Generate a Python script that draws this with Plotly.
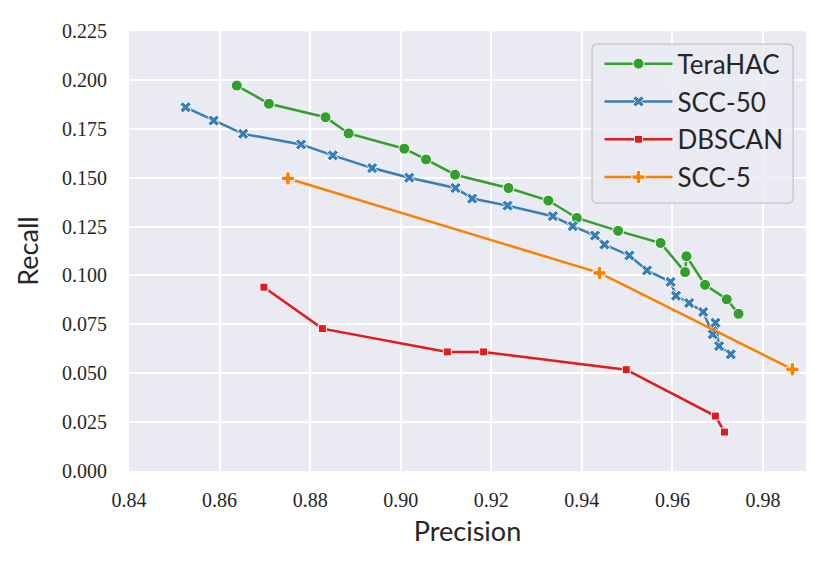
import plotly.graph_objects as go

# Precision / recall points
terahac_p = [0.8638, 0.8709, 0.8834, 0.8885, 0.9008, 0.9056, 0.9120, 0.9238, 0.9326,
             0.9389, 0.9480, 0.9574, 0.9628, 0.9631, 0.9672, 0.9720, 0.9746]
terahac_r = [0.1971, 0.1878, 0.1809, 0.1726, 0.1648, 0.1593, 0.1515, 0.1447, 0.1383,
             0.1294, 0.1228, 0.1166, 0.1017, 0.1098, 0.0952, 0.0878, 0.0804]

scc50_p = [0.8525, 0.8587, 0.8652, 0.8780, 0.8850, 0.8937, 0.9019, 0.9121, 0.9158,
           0.9236, 0.9336, 0.9380, 0.9429, 0.9450, 0.9505, 0.9544, 0.9596, 0.9608,
           0.9637, 0.9668, 0.9689, 0.9695, 0.9703, 0.9729]
scc50_r = [0.1860, 0.1792, 0.1724, 0.1670, 0.1614, 0.1549, 0.1500, 0.1447, 0.1393,
           0.1357, 0.1303, 0.1252, 0.1204, 0.1158, 0.1102, 0.1026, 0.0967, 0.0896,
           0.0859, 0.0813, 0.0699, 0.0758, 0.0639, 0.0597]

dbscan_p = [0.8698, 0.8827, 0.9103, 0.9183, 0.9498, 0.9695, 0.9715]
dbscan_r = [0.0940, 0.0728, 0.0609, 0.0609, 0.0518, 0.0281, 0.0199]

scc5_p = [0.8751, 0.9439, 0.9865]
scc5_r = [0.1496, 0.1013, 0.0520]

x_ticks = [0.84, 0.86, 0.88, 0.90, 0.92, 0.94, 0.96, 0.98]
y_ticks = [0.000, 0.025, 0.050, 0.075, 0.100, 0.125, 0.150, 0.175, 0.200, 0.225]

series = [
    ("TeraHAC", terahac_p, terahac_r, "#33a02c", "circle", 11),
    ("SCC-50", scc50_p, scc50_r, "#377eb8", "x", 10),
    ("DBSCAN", dbscan_p, dbscan_r, "#e41a1c", "square", 8),
    ("SCC-5", scc5_p, scc5_r, "#ff7f00", "cross", 11),
]

fig = go.Figure()
for name, xs, ys, color, symbol, size in series:
    fig.add_trace(go.Scatter(
        x=xs, y=ys, name=name, mode="lines+markers", legendgroup=name,
        line=dict(color=color, width=2.5),
        marker=dict(symbol=symbol, size=size, color=color,
                    line=dict(color="white", width=1)),
    ))

# rounded legend frame, matplotlib style (paper coords)
x0, x1, y0, y1 = 0.684, 0.981, 0.609, 0.970
rx, ry = 0.008, 0.012
frame = (f"M{x0 + rx},{y1} L{x1 - rx},{y1} Q{x1},{y1} {x1},{y1 - ry} "
         f"L{x1},{y0 + ry} Q{x1},{y0} {x1 - rx},{y0} L{x0 + rx},{y0} "
         f"Q{x0},{y0} {x0},{y0 + ry} L{x0},{y1 - ry} Q{x0},{y1} {x0 + rx},{y1} Z")
fig.add_shape(type="path", path=frame, xref="paper", yref="paper", layer="above",
              fillcolor="rgba(234,234,242,0.8)", line=dict(color="#c4c4c4", width=1.2))

tick_font = dict(family="Liberation Serif", size=20, color="#262626")
title_font = dict(family="Lato", size=27, color="#262626")
# the page body adds an 8px offset, so margins are shifted by that much
fig.update_layout(
    width=830, height=571,
    margin=dict(l=121, r=32, t=23, b=108),
    paper_bgcolor="white",
    plot_bgcolor="#eaeaf2",
    showlegend=True,
    legend=dict(
        x=0.695, y=0.979, xanchor="left", yanchor="top",
        bgcolor="rgba(0,0,0,0)", borderwidth=0,
        font=dict(family="Lato", size=26, color="#262626"),
        tracegroupgap=1, itemwidth=68,
    ),
    xaxis=dict(
        range=[0.84, 0.9895], tickvals=x_ticks, ticktext=[f"{v:.2f}" for v in x_ticks],
        showgrid=True, gridcolor="white", gridwidth=1.5, zeroline=False,
        tickfont=tick_font, ticklabelstandoff=15, automargin=False,
        title=dict(text="Precision", font=title_font, standoff=12),
    ),
    yaxis=dict(
        range=[0, 0.225], tickvals=y_ticks, ticktext=[f"{v:.3f}" for v in y_ticks],
        showgrid=True, gridcolor="white", gridwidth=1.5, zeroline=False,
        tickfont=tick_font, ticklabelstandoff=21, automargin=False,
        title=dict(text="Recall", font=title_font, standoff=15),
    ),
)

fig.write_html("out.html")
